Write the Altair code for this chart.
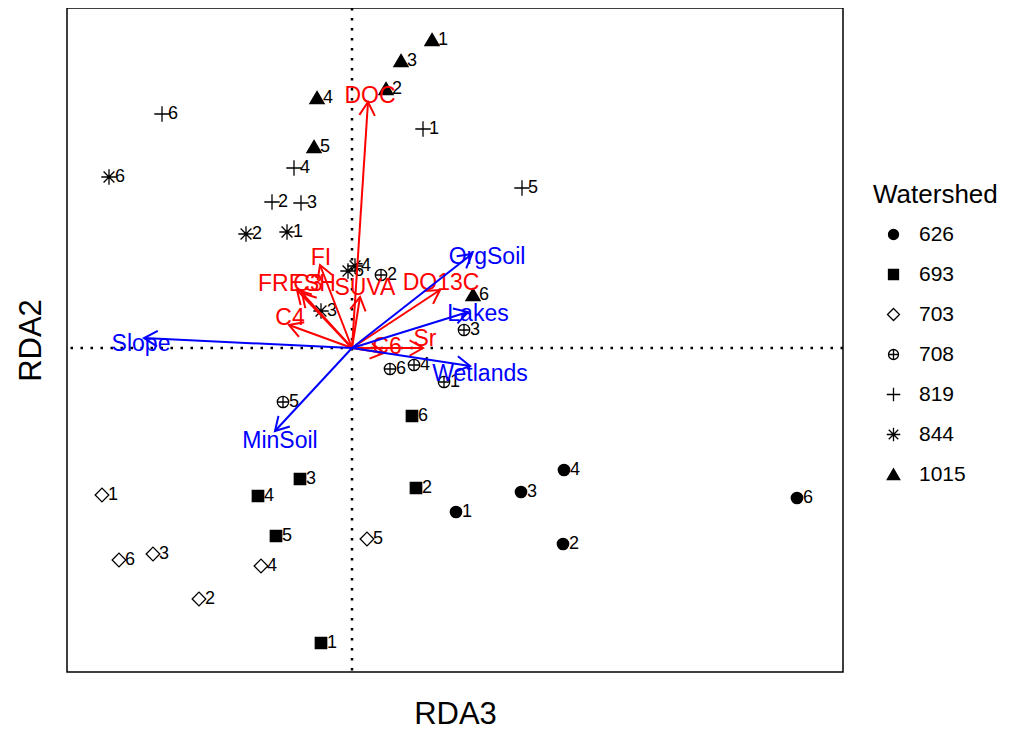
import altair as alt
import pandas as pd

# ---------------- site scores (RDA3, RDA2) ----------------
site_watershed = ["626"] * 5 + ["693"] * 6 + ["703"] * 6 + ["708"] * 6 + ["819"] * 6 + ["844"] * 6 + ["1015"] * 6
site_number = ["1", "2", "3", "4", "6",
               "1", "2", "3", "4", "5", "6",
               "1", "2", "3", "4", "5", "6",
               "1", "2", "3", "4", "5", "6",
               "1", "2", "3", "4", "5", "6",
               "1", "2", "3", "4", "5", "6",
               "1", "2", "3", "4", "5", "6"]
site_x = [1.04, 2.11, 1.69, 2.12, 4.45,
          -0.31, 0.64, -0.52, -0.94, -0.76, 0.60,
          -2.50, -1.53, -1.99, -0.91, 0.15, -2.33,
          0.92, 0.29, 1.12, 0.62, -0.69, 0.38,
          0.71, -0.80, -0.51, -0.58, 1.70, -1.90,
          -0.65, -1.06, -0.31, 0.03, -0.04, -2.43,
          0.80, 0.34, 0.49, -0.35, -0.38, 1.21]
site_y = [-1.64, -1.96, -1.44, -1.22, -1.50,
          -2.95, -1.40, -1.31, -1.48, -1.88, -0.68,
          -1.47, -2.51, -2.06, -2.18, -1.91, -2.12,
          -0.34, 0.73, 0.18, -0.17, -0.54, -0.21,
          2.19, 1.46, 1.45, 1.80, 1.60, 2.34,
          1.16, 1.14, 0.37, 0.82, 0.77, 1.71,
          3.08, 2.59, 2.87, 2.50, 2.01, 0.53]

ws_order = ["626", "693", "703", "708", "819", "844", "1015"]
ws_shapes = [
    "circle",
    "square",
    "M-1.2,0L0,-1.2L1.2,0L0,1.2Z",
    "M-1,0A1,1,0,1,1,1,0A1,1,0,1,1,-1,0ZM-1,0L1,0M0,-1L0,1",
    "M-1.35,0L1.35,0M0,-1.35L0,1.35",
    "M-1.35,0L1.35,0M0,-1.35L0,1.35M-0.95,-0.95L0.95,0.95M-0.95,0.95L0.95,-0.95",
    "M0,-1.15L1.25,1L-1.25,1Z",
]
ws_fills = ["black", "black", "transparent", "transparent", "transparent", "transparent", "black"]
ws_strokes = ["black"] * 7

# ---------------- response variables (red arrows) ----------------
resp_names = ["DOC", "FI", "FRESH", "C3", "SUVA", "C4", "DO13C", "C6", "Sr"]
resp_x = [0.16, -0.32, -0.55, -0.50, 0.08, -0.63, 0.88, 0.32, 0.71]
resp_y = [2.46, 0.83, 0.58, 0.55, 0.51, 0.23, 0.58, -0.05, 0.00]
resp_lx = [0.18, -0.31, -0.55, -0.44, 0.13, -0.62, 0.89, 0.35, 0.73]
resp_ly = [2.52, 0.90, 0.64, 0.64, 0.60, 0.30, 0.65, 0.01, 0.09]

# ---------------- explanatory variables (blue arrows) ----------------
env_names = ["Slope", "MinSoil", "OrgSoil", "Lakes", "Wetlands"]
env_x = [-2.08, -0.77, 1.20, 1.16, 1.18]
env_y = [0.10, -0.83, 0.94, 0.36, -0.18]
env_lx = [-2.11, -0.72, 1.35, 1.26, 1.28]
env_ly = [0.04, -0.93, 0.91, 0.34, -0.26]

x_domain = [-2.85, 4.91]
y_domain = [-3.24, 3.40]

FONT = "Liberation Sans"
HEAD = "M-0.5,0.866L0,0L0.5,0.866"

sites = pd.DataFrame({"x": site_x, "y": site_y, "Watershed": site_watershed, "num": site_number})
resp = pd.DataFrame({"name": resp_names, "x": resp_x, "y": resp_y, "lx": resp_lx, "ly": resp_ly,
                     "x0": 0.0, "y0": 0.0})
env = pd.DataFrame({"name": env_names, "x": env_x, "y": env_y, "lx": env_lx, "ly": env_ly,
                    "x0": 0.0, "y0": 0.0})

xs = alt.Scale(domain=x_domain, nice=False, zero=False)
ys = alt.Scale(domain=y_domain, nice=False, zero=False)
xax = alt.Axis(title="RDA3", domain=False, ticks=False, labels=False, grid=False,
               titleFontSize=31, titleFont=FONT, titleFontWeight="normal", titlePadding=27,
               titleColor="black")
yax = alt.Axis(title="RDA2", domain=False, ticks=False, labels=False, grid=False,
               titleFontSize=31, titleFont=FONT, titleFontWeight="normal", titlePadding=20,
               titleColor="black")

X = alt.X("x:Q", scale=xs, axis=xax)
Y = alt.Y("y:Q", scale=ys, axis=yax)

zero_df = pd.DataFrame({"x": [0.0], "y": [0.0]})
vline = alt.Chart(zero_df).mark_rule(color="black", strokeWidth=2.5, strokeDash=[2.5, 7.5]).encode(
    x=alt.X("x:Q", scale=xs, axis=xax))
hline = alt.Chart(zero_df).mark_rule(color="black", strokeWidth=2.5, strokeDash=[2.5, 7.5]).encode(
    y=alt.Y("y:Q", scale=ys, axis=yax))

legend = alt.Legend(title="Watershed", orient="none", legendX=806, legendY=174,
                    titleFontSize=26, titleFont=FONT, titleFontWeight="normal", titleColor="black",
                    labelFontSize=21, labelFont=FONT, labelColor="black",
                    symbolSize=100, symbolStrokeWidth=1.3,
                    rowPadding=18, titlePadding=16, symbolOffset=10, labelOffset=15, padding=0)

pts = alt.Chart(sites).mark_point(strokeWidth=1.3, size=130, opacity=1, fillOpacity=1).encode(
    x=X, y=Y,
    shape=alt.Shape("Watershed:N", scale=alt.Scale(domain=ws_order, range=ws_shapes), legend=legend),
    fill=alt.Fill("Watershed:N", scale=alt.Scale(domain=ws_order, range=ws_fills), legend=legend),
    stroke=alt.Stroke("Watershed:N", scale=alt.Scale(domain=ws_order, range=ws_strokes), legend=legend),
)
pt_labels = alt.Chart(sites).mark_text(align="left", baseline="middle", dx=6, fontSize=18, font=FONT,
                                       color="black").encode(x=X, y=Y, text="num:N")


def arrows(df, color):
    lines = alt.Chart(df).mark_rule(color=color, strokeWidth=2).encode(
        x=alt.X("x0:Q", scale=xs, axis=xax), y=alt.Y("y0:Q", scale=ys, axis=yax),
        x2="x:Q", y2="y:Q")
    heads = alt.Chart(df).transform_calculate(
        ang="(atan2(datum.x, datum.y) * 180 / PI + 360) % 360"
    ).mark_point(shape=HEAD, size=960, filled=False, color=color, strokeWidth=2, opacity=1).encode(
        x=X, y=Y, angle=alt.Angle("ang:Q", scale=None))
    labels = alt.Chart(df).mark_text(align="center", baseline="middle", fontSize=23, font=FONT,
                                     color=color).encode(
        x=alt.X("lx:Q", scale=xs, axis=xax), y=alt.Y("ly:Q", scale=ys, axis=yax), text="name:N")
    return [lines, heads, labels]


chart = alt.layer(
    vline, hline, pts, pt_labels, *arrows(resp, "#FF0000"), *arrows(env, "#0000FF")
).properties(
    width=776, height=664,
    autosize=alt.AutoSizeParams(type="none"),
    padding={"left": 59, "top": 0, "right": 160, "bottom": 60},
).configure_view(stroke="black", strokeWidth=1.5)

chart.save("out.html", embed_options={"renderer": "svg", "actions": False})
